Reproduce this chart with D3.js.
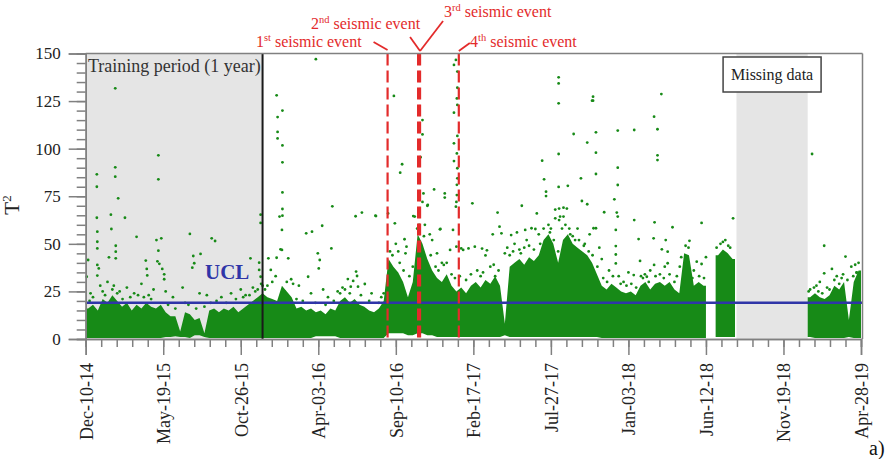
<!DOCTYPE html>
<html><head><meta charset="utf-8">
<script src="https://cdn.jsdelivr.net/npm/d3@7"></script>
<style>
body{margin:0;background:#fff}
svg{display:block}
text{font-family:"Liberation Serif","Times New Roman",serif}
</style>
</head><body>
<svg id="c" width="893" height="459"></svg>
<script>
// ---- data (days counted from Dec-10-14) ----
const tickDays = [0,160,320,480,640,800,960,1120,1280,1440,1600];
const tickLabels = ["Dec-10-14","May-19-15","Oct-26-15","Apr-03-16","Sep-10-16","Feb-17-17","Jul-27-17","Jan-03-18","Jun-12-18","Nov-19-18","Apr-28-19"];
const yTicks = [0,25,50,75,100,125,150];
const ucl = 19.1;
const trainingEnd = 365;
const missingStart = 1343, missingEnd = 1490;
const eventDays = [623, 686, 690, 770];
const eventNames = [["1","st"],["2","nd"],["3","rd"],["4","th"]];

// dense cloud: [bin start day, low, high] (10-day bins)
const band = [
[0,0.5,16],[10,0.5,18],[20,0.5,15],[30,0.5,21],[40,0.5,19],[50,0.5,23],[60,0.5,20],[70,0.5,17],[80,0.5,19],[90,0.5,15],
[100,0.5,18],[110,0.5,16],[120,0.5,19],[130,0.5,17],[140,0.5,16],[150,0.5,18],[160,1,14],[170,1,12],[180,1.5,12],[190,1,4],
[200,1,14],[210,0.5,13],[220,2,10],[230,2,11],[240,1,3],[250,0.5,15],[260,0.5,16],[270,0.5,14],[280,0.5,16],[290,0.5,15],
[300,0.5,17],[310,0.5,14],[320,0.5,16],[330,0.5,18],[340,0.5,20],[350,0.5,22],[360,0.5,24],[370,0.5,22],[380,0.5,21],[390,0.5,20],
[400,0.5,28],[410,0.5,25],[420,0.5,22],[430,0.5,16],[440,0.5,17],[450,0.5,15],[460,0.5,16],[470,1.5,14],[480,1.5,15],[490,1.5,13],
[500,1.5,16],[510,1.5,15],[520,0.5,20],[530,0.5,22],[540,0.5,19],[550,0.5,21],[560,0.5,18],[570,0.5,17],[580,0.5,15],[590,0.5,14],
[600,0.5,16],[610,0.5,20],[620,3,42],[630,3,38],[640,3,35],[650,3,30],[660,2,22],[670,2,30],[680,3,55],[690,3,50],
[700,2,42],[710,2,36],[720,1,32],[730,1,30],[740,1,34],[750,1,28],[760,1,25],[770,1,27],[780,1,24],[790,1,28],
[800,1,30],[810,1,27],[820,1,31],[830,1,29],[840,1,33],[850,1,28],[860,2,8],[870,1,38],[880,1,40],[890,1,42],
[900,1,39],[910,1,43],[920,1,41],[930,1,44],[940,1,52],[950,1,55],[960,1,50],[970,1,40],[980,1,52],[990,1,55],
[1000,1,50],[1010,1,48],[1020,1,46],[1030,1,44],[1040,1,40],[1050,1,34],[1060,0.5,28],[1070,0.5,26],[1080,0.5,29],[1090,0.5,27],
[1100,0.5,25],[1110,0.5,24],[1120,0.5,25],[1130,0.5,23],[1140,0.5,28],[1150,0.5,30],[1160,0.5,26],[1170,0.5,29],[1180,0.5,30],[1190,0.5,28],
[1200,0.5,30],[1210,0.5,26],[1220,0.5,24],[1230,0.5,45],[1240,0.5,44],[1250,0.5,28],[1260,0.5,30],[1270,0.5,28],
[1300,1,44],[1310,1,47],[1320,1,45],[1330,1,42],
[1490,1,22],[1500,0.5,24],[1510,0.5,22],[1520,0.5,21],[1530,0.5,23],[1540,0.5,28],[1550,0.5,26],[1560,0.5,30],[1570,1,10],[1580,0.5,30],[1590,0.5,36]
];

// isolated points above the dense cloud: [day, T2]
const points = [
[2,32.7],[5,41.5],[23,86.5],[23,80],[23,63.7],[24,56.4],[24,51.1],[24,47.6],[24,38.9],[24,33.3],[27,37.1],[48,42.9],[52,65.3],[53,57.8],
[61,131.7],[61,90.2],[61,85.3],[62,49],[62,45.9],[62,42.4],[67,73.9],[81,63.7],[105,53.7],[124,41.2],[126,36.8],[127,33.4],[146,52],
[148,40.8],[150,96.5],[150,83.9],[150,46.4],[152,39.5],[156,52.9],[158,36.8],[162,34],[162,31.4],[215,55.2],[220,37.5],[222,43.6],
[224,39.8],[237,44.7],[260,52.9],[267,51.5],[340,42.4],[358,40.1],[358,36.3],[361,65.3],[361,61],[361,32.7],[362,29],
[10,24],[30,28],[45,30],[55,26],[70,25],[85,27],[100,24],[115,29],[130,23],[140,26],[165,25],[180,22],[200,27],[235,24],[250,23],
[280,22],[300,24],[320,26],[330,23],[345,27],[350,25],
[8,20],[15,22],[35,25],[40,23],[58,28],[65,24],[76,21],[92,22],[108,23],[120,22],[135,21],[170,18],[185,16],[205,19],[212,18],
[228,16],[245,17],[258,19],[270,20],[290,19],[310,21],[325,22],[338,23],[355,26],[365,28],
[377,42.4],[382,36.3],[394,128],[394,42.7],[396,116.6],[396,108.8],[396,105.4],[400,64.3],[402,47.1],[405,57.3],[405,46.8],[406,120],
[406,101.7],[406,92.8],[406,77],[406,68.3],[406,64.8],[418,42.4],[424,31.4],[428,29],[455,55.5],[459,32.7],[467,56.4],[475,147],[479,45],
[481,37.1],[483,41.5],[488,59.5],[507,47.6],[509,69.7],[541,31.5],[547,27.5],[552,30.5],[557,64.5],[558,35.4],[560,33.1],[562,27.5],
[570,66.4],[576,28.9],[598,64.8],[599,64.6],[370,26],[385,30],[410,25],[440,28],[465,24],[490,26],[500,22],[520,25],[530,27],[590,24],[610,22],
[375,28],[392,33],[415,30],[435,21],[448,20],[474,19],[495,18],[512,20],[525,24],[535,26],[545,24],[568,23],[585,20],[605,19],[615,24],
[624,66],[636,127.7],[638,60.8],[649,87.4],[653,91.8],[658,52.4],[662,48.5],[676,64.6],[679,64.3],[691,95.5],[695,115],[695,107.5],
[695,72],[697,76.5],[705,70],[706,70.4],[719,78.6],[731,57.6],[732,57.8],[739,38.9],[741,76.5],[741,74.3],[752,46.8],[758,57.3],
[760,144],[760,118.9],[760,102.8],[764,146.6],[765,48.5],[767,140.5],[767,132],[766,126.4],[767,123],[767,106.7],[766,97.5],[760,93.5],
[767,89.7],[767,84.4],[766,81],[766,75.6],[765,72],[764,69.5],[775,47.6],[779,46.8],[790,47.6],[798,71.3],[803,48.5],
[640,50],[645,46],[660,45],[700,60],[710,55],[715,52],[725,45],[735,40],
[628,46],[633,44],[648,40],[656,36],[668,33],[675,38],[684,58],[688,60],[698,54],[712,44],[722,38],[728,36],[745,40],[755,34],
[762,32],[772,33],[785,31],[795,34],[808,36],[815,33],[842,39],[852,36],
[818,47.5],[825,43.9],[828,46.6],[840,55],[850,66.4],[854,59],[858,55.5],[878,54.6],[890,56],[900,70],[907,57.3],[920,58.2],[928,57.8],
[931,66],[942,93.7],[946,83.9],[950,77.4],[950,75.1],[969,63.4],[969,68],[976,137.5],[976,134.3],[976,123.8],[976,97.2],[976,79.9],
[977,62.5],[977,68.5],[979,64.3],[986,64.3],[986,69],[993,68.5],[995,80.5],[1007,107.7],[1022,84.4],[1024,72.5],[1035,103.2],[1035,70.8],
[1045,125.2],[1047,127.3],[1047,125.2],[1048,58.2],[1053,108.6],[1053,97.9],[1053,86.7],[1053,58.2],[1070,66.6],[1091,73.4],[1094,57.3],
[1094,48.8],[1094,44.4],[1094,39.7],[1096,66.4],[1098,109.5],[1098,90],[1098,80.9],[1098,64.3],[1131,33.6],[1132,109.8],[1132,62.5],
[1141,52.5],[1144,41],[1158,32.7],[1172,52.9],[1173,116.8],[1173,38.9],[1174,61.3],[1180,110.2],[1180,96.5],[1180,94],[1188,128.7],
[1189,47.1],[1197,52],[1201,45.9],[1201,39.8],[1211,58.7],[1229,43],[1246,51.6],[1261,40.6],[1271,61],[1271,39.4],[1280,43],[1336,63.4],
[820,35],[835,38],[845,33],[865,45],[870,48],[885,50],[895,47],[910,52],[915,49],[935,55],[955,60],[960,58],[1000,55],[1010,52],
[1015,58],[1030,50],[1040,55],[1060,48],[1065,42],[1080,36],[1100,33],[1110,30],[1120,35],[1150,32],[1165,36],[1185,34],[1195,38],
[1220,33],[1235,30],[1255,36],[1310,50],[1320,52],[1330,48],
[875,44],[882,46],[898,45],[905,48],[925,47],[938,50],[945,58],[958,56],[966,52],[975,46],[983,58],[990,60],[998,58],[1005,54],
[1018,52],[1028,49],[1038,46],[1046,44],[1056,38],[1068,32],[1076,30],[1088,33],[1104,29],[1116,28],[1126,29],[1136,27],[1146,33],
[1154,34],[1162,30],[1176,33],[1193,32],[1205,34],[1215,30],[1226,38],[1238,49],[1244,48],[1252,32],[1266,33],[1276,32],
[1302,48],[1315,51],[1326,49],
[1499,97.2],[1508,28],[1524,49],[1524,34.5],[1540,36.8],[1568,43.3],[1572,31],[1591,35],[1591,34.8],
[1495,26],[1515,30],[1530,27],[1550,33],[1560,32],[1580,38],[1595,40],
[1492,25],[1503,27],[1512,25],[1520,24],[1535,26],[1545,31],[1555,29],[1563,34],[1584,33],[1588,39]
];

// ---- drawing ----
const svg = d3.select("#c");
const x = d3.scaleLinear().domain([0,1600]).range([85.7,861]);
const y = d3.scaleLinear().domain([0,150]).range([339,53.5]);
const green = "#178a17", red = "#e32b2b", blue = "#2f35a8", grey = "#808080";

// shaded regions
svg.append("rect").attr("x",x(0)).attr("y",y(150)).attr("width",x(trainingEnd)-x(0))
  .attr("height",y(0)-y(150)).attr("fill","#e5e5e5");
svg.append("rect").attr("x",x(missingStart)).attr("y",y(150)).attr("width",x(missingEnd)-x(missingStart))
  .attr("height",y(0)-y(150)).attr("fill","#e5e5e5");

// dense cloud: contiguous runs of bins, drawn as areas through bin centres
const runs = [];
band.forEach((d,i)=>{
  if (i===0 || d[0]-band[i-1][0] > 10) runs.push([]);
  runs[runs.length-1].push(d);
});
const area = d3.area()
  .x(d=>x(d.day)).y0(d=>y(d.lo)).y1(d=>y(d.hi)).curve(d3.curveLinear);
svg.append("g").selectAll("path").data(runs).join("path")
  .attr("d",r=>{
    const pts = r.map(d=>({day:d[0]+5, lo:d[1], hi:d[2]}));
    const f=r[0], l=r[r.length-1];
    pts.unshift({day:f[0], lo:f[1], hi:f[2]});
    pts.push({day:l[0]+10, lo:l[1], hi:l[2]});
    return area(pts);
  })
  .attr("fill",green);

// isolated points
svg.append("g").selectAll("circle").data(points).join("circle")
  .attr("cx",d=>x(d[0])).attr("cy",d=>y(d[1])).attr("r",1.4).attr("fill",green);

// UCL
svg.append("line").attr("x1",x(0)).attr("x2",x(1600)+1.5).attr("y1",y(ucl)).attr("y2",y(ucl))
  .attr("stroke",blue).attr("stroke-width",2.5);
svg.append("text").attr("x",205).attr("y",y(ucl)-24).attr("fill",blue)
  .attr("font-size",21).attr("font-weight","bold").text("UCL");

// training line
svg.append("line").attr("x1",x(trainingEnd)).attr("x2",x(trainingEnd)).attr("y1",y(150)).attr("y2",y(0))
  .attr("stroke","#1a1a1a").attr("stroke-width",2);

// event lines
svg.append("g").selectAll("line").data(eventDays).join("line")
  .attr("x1",d=>x(d)).attr("x2",d=>x(d)).attr("y1",y(150)).attr("y2",y(0))
  .attr("stroke",red).attr("stroke-width",2.2).attr("stroke-dasharray","12,5");

// axes
const gy = svg.append("g").attr("transform",`translate(${x(0)},0)`)
  .call(d3.axisLeft(y).tickValues(d3.range(0,151,5)).tickSize(9).tickFormat(""));
const gy2 = svg.append("g").attr("transform",`translate(${x(0)},0)`)
  .call(d3.axisLeft(y).tickValues(yTicks).tickSize(17).tickPadding(8));
const gx = svg.append("g").attr("transform",`translate(0,${y(0)})`)
  .call(d3.axisBottom(x).tickValues(d3.range(0,1601,32)).tickSize(8).tickFormat(""));
const gx2 = svg.append("g").attr("transform",`translate(0,${y(0)})`)
  .call(d3.axisBottom(x).tickValues(tickDays).tickSize(16).tickFormat((d,i)=>tickLabels[i]));
[gy,gy2,gx,gx2].forEach(g=>{
  g.selectAll("path,line").attr("stroke",grey).attr("stroke-width",1.5);
  g.selectAll("text").attr("fill","#222").attr("font-family","Liberation Serif, serif");
});
gy2.selectAll("text").attr("font-size",17);
gx2.selectAll("text").attr("font-size",18).attr("transform","rotate(-90)")
  .attr("x",-24).attr("y",0).attr("dy","0.35em").style("text-anchor","end");

// frame top/right
svg.append("line").attr("x1",x(0)).attr("x2",x(1600)+1.5).attr("y1",y(150)).attr("y2",y(150))
  .attr("stroke",grey).attr("stroke-width",1.5);
svg.append("line").attr("x1",x(1600)+1.5).attr("x2",x(1600)+1.5).attr("y1",y(150)).attr("y2",y(0))
  .attr("stroke",grey).attr("stroke-width",1.5);

// y label
const yl = svg.append("text").attr("transform","translate(19,205) rotate(-90)")
  .attr("text-anchor","middle").attr("font-size",21).attr("fill","#222");
yl.append("tspan").text("T");
yl.append("tspan").attr("font-size",13).attr("dy",-8).text("2");

// training label
svg.append("text").attr("x",88).attr("y",72).attr("font-size",18).attr("fill","#333")
  .text("Training period (1 year)");

// missing data box
const mc = (x(missingStart)+x(missingEnd))/2;
svg.append("rect").attr("x",mc-49).attr("y",57).attr("width",98).attr("height",35)
  .attr("fill","#fff").attr("stroke","#444").attr("stroke-width",1.5);
svg.append("text").attr("x",mc).attr("y",80).attr("text-anchor","middle").attr("font-size",16)
  .attr("fill","#222").text("Missing data");

// event labels
const labPos = [[256,47],[311,29],[444,17],[470,47]];
eventNames.forEach((n,i)=>{
  const t = svg.append("text").attr("x",labPos[i][0]).attr("y",labPos[i][1]).attr("font-size",16).attr("fill",red);
  t.append("tspan").text(n[0]);
  t.append("tspan").attr("font-size",10.5).attr("dy",-6).text(n[1]);
  t.append("tspan").attr("dy",6).text(" seismic event");
});
const leaders = [
  [x(eventDays[0])-14,42, x(eventDays[0]),50],
  [x(eventDays[2])-10,37, x(eventDays[2]),51],
  [x(eventDays[2])+23,21, x(eventDays[2]),51],
  [x(eventDays[3])+11,43, x(eventDays[3]),51]
];
svg.append("g").selectAll("line").data(leaders).join("line")
  .attr("x1",d=>d[0]).attr("y1",d=>d[1]).attr("x2",d=>d[2]).attr("y2",d=>d[3])
  .attr("stroke",red).attr("stroke-width",1.8);

svg.append("text").attr("x",869).attr("y",455).attr("font-size",20).attr("fill","#111").text("a)");
</script>
</body></html>
